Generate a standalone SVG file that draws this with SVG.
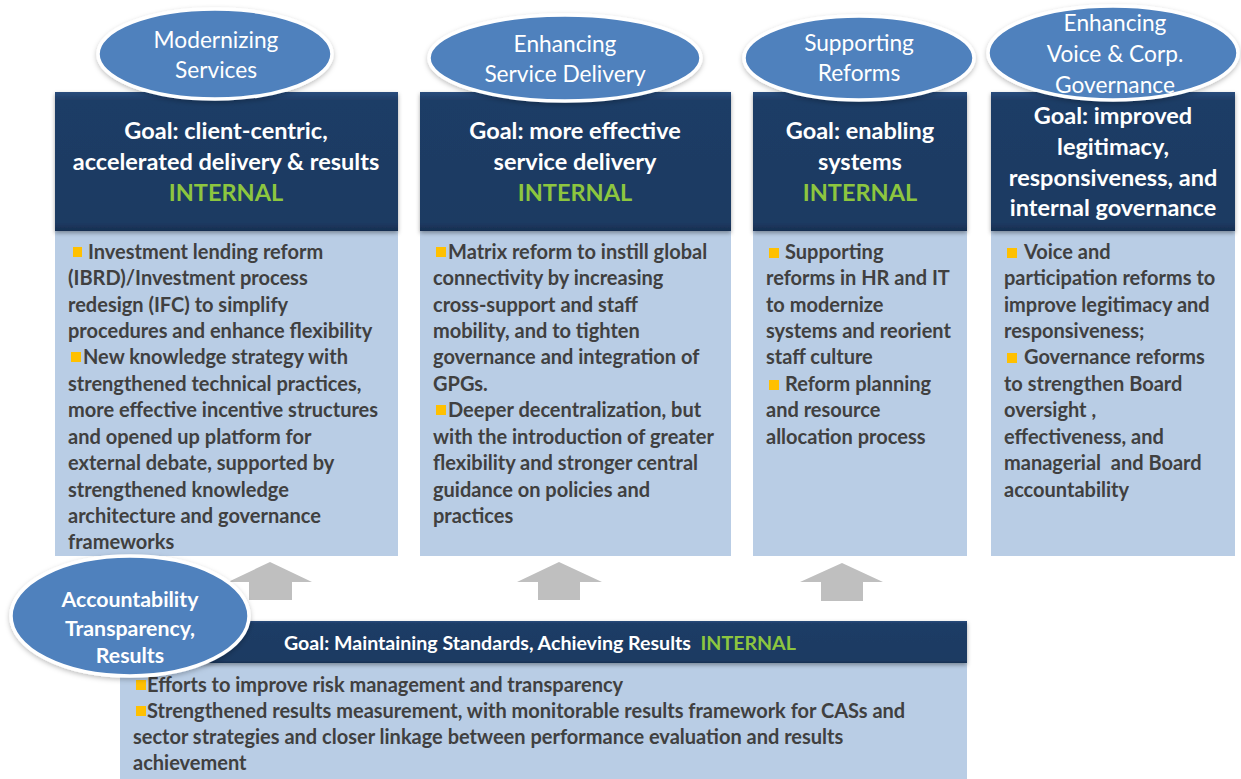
<svg xmlns="http://www.w3.org/2000/svg" width="1241" height="779" viewBox="0 0 1241 779">
  <style>
    .hdr { fill: url(#navy); filter: url(#sh); }
    .body { fill: #B9CDE5; }
    .ell { fill: #4F81BD; stroke: #FFFFFF; stroke-width: 3.5; filter: url(#glow); }
    .et { font-family: Lato, "Open Sans", sans-serif; font-size: 22.7px; fill: #FFFFFF; text-anchor: middle; }
    .etb { font-family: Lato, "Open Sans", sans-serif; font-size: 21.3px; font-weight: bold; fill: #FFFFFF; text-anchor: middle; }
    .ht { font-family: Lato, "Open Sans", sans-serif; font-size: 23.5px; font-weight: bold; fill: #FFFFFF; text-anchor: middle; }
    .green { fill: #8DC63F; }
    .bt { font-family: Lato, "Open Sans", sans-serif; font-size: 20px; font-weight: bold; fill: #404040; }
    .bar { font-family: Lato, "Open Sans", sans-serif; font-size: 19.6px; font-weight: bold; fill: #FFFFFF; }
    .bul { fill: #FFC000; }
    .arr { fill: #BFBFBF; }
  </style>
  <defs>
    <linearGradient id="navy" x1="0" y1="0" x2="0" y2="1">
      <stop offset="0" stop-color="#2A4C7C"/>
      <stop offset="0.06" stop-color="#1F3C66"/>
      <stop offset="0.94" stop-color="#1E3A62"/>
      <stop offset="1" stop-color="#172E50"/>
    </linearGradient>
    <filter id="sh" x="-5%" y="-5%" width="110%" height="120%">
      <feDropShadow dx="0" dy="2" stdDeviation="2" flood-color="#000" flood-opacity="0.35"/>
    </filter>
    <filter id="glow" x="-10%" y="-15%" width="120%" height="135%">
      <feDropShadow dx="0" dy="2" stdDeviation="2.5" flood-color="#000" flood-opacity="0.25"/>
    </filter>
  </defs>

  <rect width="1241" height="779" fill="#FFFFFF"/>

  <!-- Column 1 -->
  <g id="col1">
    <rect class="body" x="55" y="231" width="343" height="325"/>
    <rect class="hdr" x="55" y="92" width="343" height="139"/>
    <text class="ht" x="226" y="139">Goal: client-centric,</text>
    <text class="ht" x="226" y="170">accelerated delivery &amp; results</text>
    <text class="ht green" x="226" y="201">INTERNAL</text>
    <rect class="bul" x="73" y="247" width="9" height="10"/>
    <text class="bt" x="68" y="259"><tspan x="88">Investment lending reform</tspan><tspan x="68" y="285">(IBRD)/Investment process</tspan><tspan x="68" y="312">redesign (IFC) to simplify</tspan><tspan x="68" y="338">procedures and enhance flexibility</tspan><tspan x="83" y="364">New knowledge strategy with</tspan><tspan x="68" y="391">strengthened technical practices,</tspan><tspan x="68" y="417">more effective incentive structures</tspan><tspan x="68" y="444">and opened up platform for</tspan><tspan x="68" y="470">external debate, supported by</tspan><tspan x="68" y="497">strengthened knowledge</tspan><tspan x="68" y="523">architecture and governance</tspan><tspan x="68" y="549">frameworks</tspan></text>
    <rect class="bul" x="71" y="352" width="10" height="10"/>
  </g>

  <!-- Column 2 -->
  <g id="col2">
    <rect class="body" x="420" y="231" width="311" height="325"/>
    <rect class="hdr" x="420" y="92" width="311" height="139"/>
    <text class="ht" x="575" y="139">Goal: more effective</text>
    <text class="ht" x="575" y="170">service delivery</text>
    <text class="ht green" x="575" y="201">INTERNAL</text>
    <rect class="bul" x="436" y="247" width="10" height="10"/>
    <text class="bt" x="448" y="259">Matrix reform to instill global<tspan x="433" y="285">connectivity by increasing</tspan><tspan x="433" y="312">cross-support and staff</tspan><tspan x="433" y="338">mobility, and to tighten</tspan><tspan x="433" y="364">governance and integration of</tspan><tspan x="433" y="391">GPGs.</tspan><tspan x="448" y="417">Deeper decentralization, but</tspan><tspan x="433" y="444">with the introduction of greater</tspan><tspan x="433" y="470">flexibility and stronger central</tspan><tspan x="433" y="497">guidance on policies and</tspan><tspan x="433" y="523">practices</tspan></text>
    <rect class="bul" x="436" y="405" width="10" height="10"/>
  </g>

  <!-- Column 3 -->
  <g id="col3">
    <rect class="body" x="753" y="231" width="214" height="325"/>
    <rect class="hdr" x="753" y="92" width="214" height="139"/>
    <text class="ht" x="860" y="139">Goal: enabling</text>
    <text class="ht" x="860" y="170">systems</text>
    <text class="ht green" x="860" y="201">INTERNAL</text>
    <rect class="bul" x="769" y="248" width="10" height="10"/>
    <text class="bt" x="785" y="259">Supporting<tspan x="766" y="285">reforms in HR and IT</tspan><tspan x="766" y="312">to modernize</tspan><tspan x="766" y="338">systems and reorient</tspan><tspan x="766" y="364">staff culture</tspan><tspan x="785" y="391">Reform planning</tspan><tspan x="766" y="417">and resource</tspan><tspan x="766" y="444">allocation process</tspan></text>
    <rect class="bul" x="769" y="380" width="10" height="10"/>
  </g>

  <!-- Column 4 -->
  <g id="col4">
    <rect class="body" x="991" y="231" width="244" height="325"/>
    <rect class="hdr" x="991" y="92" width="244" height="139"/>
    <text class="ht" x="1113" y="124">Goal: improved</text>
    <text class="ht" x="1113" y="155">legitimacy,</text>
    <text class="ht" x="1113" y="186">responsiveness, and</text>
    <text class="ht" x="1113" y="216">internal governance</text>
    <rect class="bul" x="1007" y="248" width="10" height="10"/>
    <text class="bt" x="1024" y="259">Voice and<tspan x="1004" y="285">participation reforms to</tspan><tspan x="1004" y="312">improve legitimacy and</tspan><tspan x="1004" y="338">responsiveness;</tspan><tspan x="1024" y="364">Governance reforms</tspan><tspan x="1004" y="391">to strengthen Board</tspan><tspan x="1004" y="417">oversight ,</tspan><tspan x="1004" y="444">effectiveness, and</tspan><tspan x="1004" y="470" xml:space="preserve">managerial  and Board</tspan><tspan x="1004" y="497">accountability</tspan></text>
    <rect class="bul" x="1007" y="353" width="10" height="10"/>
  </g>

  <!-- Bottom -->
  <g id="bottom">
    <rect class="body" x="120" y="663" width="847" height="116"/>
    <rect class="hdr" x="120" y="621" width="847" height="42"/>
    <text class="bar" x="284" y="650" xml:space="preserve">Goal: Maintaining Standards, Achieving Results  <tspan class="green">INTERNAL</tspan></text>
    <rect class="bul" x="136" y="680" width="10" height="10"/>
    <text class="bt" x="147" y="692">Efforts to improve risk management and transparency<tspan x="147" y="718">Strengthened results measurement, with monitorable results framework for CASs and</tspan><tspan x="133" y="744">sector strategies and closer linkage between performance evaluation and results</tspan><tspan x="133" y="770">achievement</tspan></text>
    <rect class="bul" x="136" y="706" width="10" height="10"/>
  </g>

  <!-- Connectors (arrows) -->
  <g id="connectors">
    <polygon class="arr" points="270,562 312,582 292,582 292,600 249,600 249,582 228,582"/>
    <polygon class="arr" points="559,562 602,582 580,582 580,600 538,600 538,582 517,582"/>
    <polygon class="arr" points="842,563 883,582 863,582 863,601 821,601 821,582 800,582"/>
  </g>

  <!-- Ellipses -->
  <g id="e1">
    <ellipse class="ell" cx="215" cy="54" rx="117" ry="45"/>
    <text class="et" x="216" y="48">Modernizing</text>
    <text class="et" x="216" y="78">Services</text>
  </g>
  <g id="e2">
    <ellipse class="ell" cx="565" cy="58" rx="136" ry="43"/>
    <text class="et" x="565" y="52">Enhancing</text>
    <text class="et" x="565" y="82">Service Delivery</text>
  </g>
  <g id="e3">
    <ellipse class="ell" cx="859" cy="58" rx="115" ry="42"/>
    <text class="et" x="859" y="51">Supporting</text>
    <text class="et" x="859" y="81">Reforms</text>
  </g>
  <g id="e4">
    <ellipse class="ell" cx="1113" cy="53" rx="125" ry="47"/>
    <text class="et" x="1115" y="31">Enhancing</text>
    <text class="et" x="1115" y="62">Voice &amp; Corp.</text>
    <text class="et" x="1115" y="93">Governance</text>
  </g>
  <g id="e5">
    <ellipse class="ell" cx="130" cy="616" rx="119" ry="60"/>
    <text class="etb" x="130" y="607">Accountability</text>
    <text class="etb" x="130" y="636">Transparency,</text>
    <text class="etb" x="130" y="663">Results</text>
  </g>
</svg>
